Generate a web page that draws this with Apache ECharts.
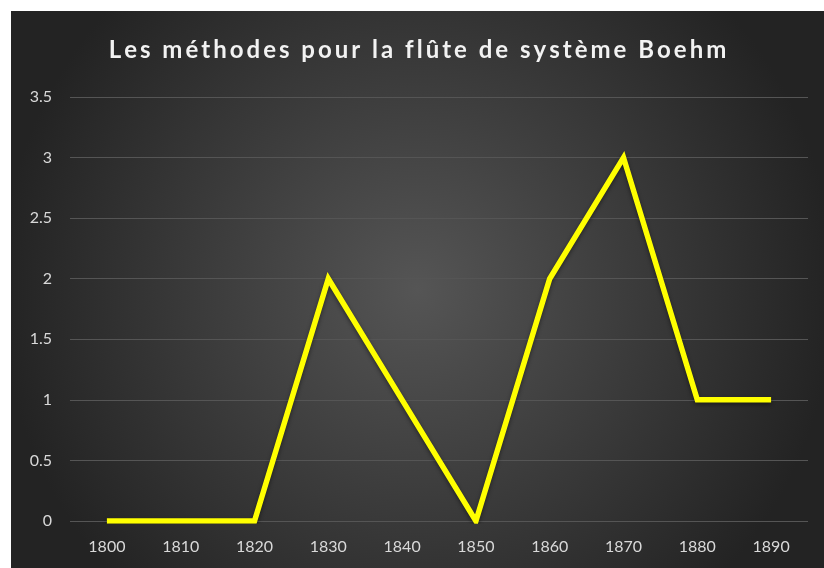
<!DOCTYPE html>
<html>
<head>
<meta charset="utf-8">
<script src="https://cdn.jsdelivr.net/npm/echarts@6/dist/echarts.min.js"></script>
<style>
  html, body { margin: 0; padding: 0; background: #fff; }
  #chart { position: absolute; left: 11px; top: 11px; width: 813px; height: 557px; }
</style>
</head>
<body>
<div id="chart"></div>
<script>
const titleText = "Les méthodes pour la flûte de système Boehm";
const years = ["1800", "1810", "1820", "1830", "1840", "1850", "1860", "1870", "1880", "1890"];
const methods = [0, 0, 0, 2, 1, 0, 2, 3, 1, 1];

// the title is drawn with wide letter spacing: put hair spaces between letters
const spacedTitle = titleText.split("").join("\u200A\u200A");

const chart = echarts.init(document.getElementById("chart"));
chart.setOption({
  backgroundColor: {
    type: "radial", x: 0.5, y: 0.5, r: 0.75,
    colorStops: [
      { offset: 0, color: "#555555" },
      { offset: 1, color: "#232323" }
    ]
  },
  title: {
    text: spacedTitle,
    left: "center",
    top: 22,
    textStyle: {
      color: "#f2f2f2",
      fontFamily: "Lato",
      fontWeight: "bold",
      fontSize: 24
    }
  },
  grid: { left: 59, right: 16, top: 86, bottom: 47 },
  xAxis: {
    type: "category",
    data: years,
    boundaryGap: true,
    axisLine: { show: false },
    axisTick: { show: false },
    axisLabel: { color: "#d9d9d9", fontFamily: "Lato", fontSize: 16, margin: 18 }
  },
  yAxis: {
    type: "value",
    min: 0,
    max: 3.5,
    interval: 0.5,
    axisLine: { show: false },
    axisTick: { show: false },
    axisLabel: { color: "#d9d9d9", fontFamily: "Lato", fontSize: 16, margin: 18 },
    splitLine: { lineStyle: { color: "#555555", width: 1 } }
  },
  series: [{
    type: "line",
    data: methods,
    symbol: "none",
    lineStyle: {
      color: "#ffff00",
      width: 5.5,
      cap: "butt",
      join: "miter",
      shadowColor: "rgba(0,0,0,0.45)",
      shadowBlur: 4,
      shadowOffsetY: 2
    }
  }]
});
</script>
</body>
</html>
